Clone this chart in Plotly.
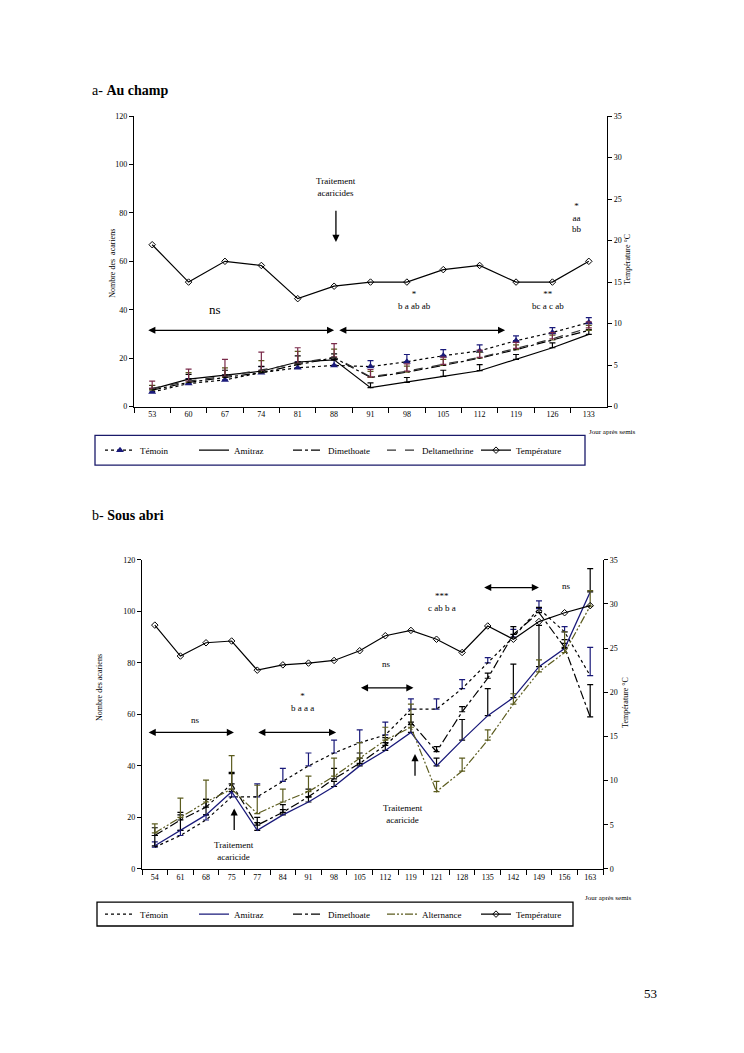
import plotly.graph_objects as go

# ---------------- data : a- Au champ ----------------
cats_a = ["53", "60", "67", "74", "81", "88", "91", "98", "105", "112", "119", "126", "133"]
temoin_a = [6, 9.5, 11, 14, 16, 17, 16.5, 18.5, 21, 23, 27.2, 30.6, 34.7]
amitraz_a = [7.2, 11.3, 13, 14.6, 18.4, 19.3, 7.8, 10, 12.5, 14.8, 19.5, 24.3, 29.8]
dimethoate_a = [6.8, 10, 12, 14, 17.3, 20.2, 12, 14.2, 17, 20, 23.5, 27.5, 31.5]
deltamethrine_a = [7.5, 10.5, 12.5, 15, 17.8, 20.5, 12.3, 14.6, 17.4, 20.3, 24, 28, 32.5]
temp_a = [19.5, 15, 17.5, 17, 13, 14.5, 15, 15, 16.5, 17, 15, 15, 17.5]
err_temoin_a = [1.5, 2, 2, 2.5, 2.5, 2.5, 2.5, 3, 2.5, 2.5, 2, 2, 2]
err_amitraz_a = [1.5, 2, 2, 2, 2.5, 2.5, 2, 2, 2.5, 2.5, 2, 2, 2]
err_dimethoate_a = [2, 4, 4, 5, 5.5, 3.5, 2.5, 2.5, 2.5, 2.5, 2, 2, 2]
err_deltamethrine_a = [3, 5, 7, 7.5, 6.5, 5.5, 3, 3, 3, 3, 2.5, 2.5, 2.5]

# ---------------- data : b- Sous abri ----------------
cats_b = ["54", "61", "68", "75", "77", "84", "91", "98", "105", "112", "119", "121",
          "128", "135", "142", "149", "156", "163"]
temoin_b = [8.5, 13, 19, 28, 28, 34, 40, 45, 49, 52, 62, 62, 70, 80, 90, 101, 92, 75]
amitraz_b = [9, 15, 21, 30, 15, 21, 26, 32, 40, 46, 53, 40, 50, 59.5, 66.5, 78.5, 85.5, 107.5]
dimethoate_b = [13, 19, 24, 33, 17, 22, 28, 35, 41, 48, 57, 45.5, 61, 74, 91, 99.5, 86, 59]
alternance_b = [14, 20, 26, 31, 21.5, 26, 30, 36, 43, 50, 55, 30, 38, 50, 64, 76.5, 84, 102]
temp_b = [27.6, 24.1, 25.6, 25.8, 22.5, 23.1, 23.3, 23.6, 24.7, 26.4, 27, 26, 24.5,
          27.5, 26, 28, 29, 29.8]
err_temoin_b = [2, 2, 2, 3, 5, 5, 5, 5, 5, 5, 4, 4, 3.5, 2, 3, 3, 2, 11]
err_amitraz_b = [4, 6, 6, 7, 3, 2, 2, 2, 3, 3, 3, 3, 8, 10.5, 13, 16, 2, 9]
err_dimethoate_b = [3, 3, 3, 4.5, 3, 3, 3, 4, 4, 3, 3, 2, 2, 2, 3, 2, 3, 12.5]
err_alternance_b = [3.5, 7.5, 8.5, 13, 11, 5, 6, 7, 6, 5, 9, 4, 5, 4, 4, 4.6, 8, 6]

FONT = "Liberation Serif"
OFF = 8                      # default page margin of the html body
W, H = 744 - 2 * OFF, 1053 - 2 * OFF
NAVY = "#1a1a7a"
OLIVE = "#5c5c1f"
MAROON = "#7a2a4a"


def px(x):
    return (x - OFF) / W


def py(y):
    return 1 - (y - OFF) / H


def up_err(arr, color):
    return dict(type="data", symmetric=False, array=arr, arrayminus=[0] * len(arr),
                width=3, thickness=1.2, color=color)


fig = go.Figure()

# ---- top chart traces ----
fig.add_trace(go.Scatter(x=cats_a, y=temoin_a, name="Témoin", mode="lines+markers",
                         line=dict(color="black", dash="dot", width=1.2),
                         marker=dict(symbol="triangle-up", size=7, color=NAVY),
                         error_y=up_err(err_temoin_a, NAVY), xaxis="x", yaxis="y", legend="legend"))
fig.add_trace(go.Scatter(x=cats_a, y=amitraz_a, name="Amitraz", mode="lines",
                         line=dict(color="black", width=1.2),
                         error_y=up_err(err_amitraz_a, "black"), xaxis="x", yaxis="y", legend="legend"))
fig.add_trace(go.Scatter(x=cats_a, y=dimethoate_a, name="Dimethoate", mode="lines",
                         line=dict(color="black", dash="dashdot", width=1.2),
                         error_y=up_err(err_dimethoate_a, OLIVE), xaxis="x", yaxis="y", legend="legend"))
fig.add_trace(go.Scatter(x=cats_a, y=deltamethrine_a, name="Deltamethrine", mode="lines",
                         line=dict(color="#333333", dash="dash", width=1.2),
                         error_y=up_err(err_deltamethrine_a, MAROON), xaxis="x", yaxis="y", legend="legend"))
fig.add_trace(go.Scatter(x=cats_a, y=temp_a, name="Température", mode="lines+markers",
                         line=dict(color="black", width=1.2),
                         marker=dict(symbol="diamond-open", size=5, color="black", line=dict(width=1)),
                         xaxis="x", yaxis="y2", legend="legend"))

# ---- bottom chart traces ----
fig.add_trace(go.Scatter(x=cats_b, y=temoin_b, name="Témoin", mode="lines",
                         line=dict(color="black", dash="dot", width=1.2),
                         error_y=up_err(err_temoin_b, NAVY), xaxis="x2", yaxis="y3", legend="legend2"))
fig.add_trace(go.Scatter(x=cats_b, y=amitraz_b, name="Amitraz", mode="lines",
                         line=dict(color=NAVY, width=1.3),
                         error_y=up_err(err_amitraz_b, "black"), xaxis="x2", yaxis="y3", legend="legend2"))
fig.add_trace(go.Scatter(x=cats_b, y=dimethoate_b, name="Dimethoate", mode="lines",
                         line=dict(color="black", dash="dashdot", width=1.2),
                         error_y=up_err(err_dimethoate_b, "black"), xaxis="x2", yaxis="y3", legend="legend2"))
fig.add_trace(go.Scatter(x=cats_b, y=alternance_b, name="Alternance", mode="lines",
                         line=dict(color=OLIVE, dash="8px,2px,2px,2px,2px,2px", width=1.2),
                         error_y=up_err(err_alternance_b, OLIVE), xaxis="x2", yaxis="y3", legend="legend2"))
fig.add_trace(go.Scatter(x=cats_b, y=temp_b, name="Température", mode="lines+markers",
                         line=dict(color="black", width=1.2),
                         marker=dict(symbol="diamond-open", size=5, color="black", line=dict(width=1)),
                         xaxis="x2", yaxis="y4", legend="legend2"))

tickfont = dict(family=FONT, size=8, color="black")
common_x = dict(type="category", tickson="boundaries", ticks="outside", ticklen=5,
                tickcolor="black", showline=True, linecolor="black", linewidth=1.2,
                showgrid=False, zeroline=False, tickfont=tickfont)
common_y = dict(ticks="outside", ticklen=4, tickcolor="black", showline=True, linecolor="black",
                linewidth=1.2, showgrid=False, zeroline=False, tickfont=tickfont)

legend_common = dict(orientation="h", xanchor="left", yanchor="middle",
                     bgcolor="rgba(0,0,0,0)", font=dict(family=FONT, size=9, color="black"),
                     itemwidth=30, entrywidth=49, tracegroupgap=0)

fig.update_layout(
    width=W, height=H, margin=dict(l=0, r=0, t=0, b=0),
    paper_bgcolor="white", plot_bgcolor="white",
    font=dict(family=FONT, size=9, color="black"),
    xaxis=dict(domain=[px(134), px(607)], anchor="y", range=[-0.5, 12.5], **common_x),
    yaxis=dict(domain=[py(406), py(113)], anchor="x", range=[0, 120], dtick=20, **common_y),
    yaxis2=dict(overlaying="y", side="right", anchor="x", range=[0, 35], dtick=5, **common_y),
    xaxis2=dict(domain=[px(142), px(603)], anchor="y3", range=[-0.5, 17.5], **common_x),
    yaxis3=dict(domain=[py(872.5), py(560.5)], anchor="x2", range=[0, 120], dtick=20, **common_y),
    yaxis4=dict(overlaying="y3", side="right", anchor="x2", range=[0, 35], dtick=5, **common_y),
    legend=dict(x=px(100), y=py(450), **legend_common),
    legend2=dict(x=px(100), y=py(918), **legend_common),
    showlegend=True,
)

shapes = [
    dict(type="rect", xref="paper", yref="paper", x0=px(95), x1=px(585), y0=py(465), y1=py(435),
         line=dict(color="#1a1a6a", width=1.3)),
    dict(type="rect", xref="paper", yref="paper", x0=px(97), x1=px(573), y0=py(930), y1=py(906),
         line=dict(color="black", width=1.3)),
]
fig.update_layout(shapes=shapes)

ann = []


def text(x, y, t, xref="x", yref="y", size=9, xanchor="center", yanchor="middle", **kw):
    ann.append(dict(x=x, y=y, xref=xref, yref=yref, text=t, showarrow=False,
                    xanchor=xanchor, yanchor=yanchor,
                    font=dict(family=FONT, size=size, color="black"), **kw))


def arrow(x, y, ax, ay, xref="x", yref="y", both=False, width=1.3):
    ann.append(dict(x=x, y=y, ax=ax, ay=ay, xref=xref, yref=yref, axref=xref, ayref=yref,
                    text="", showarrow=True, arrowhead=2, arrowsize=1.1, arrowwidth=width,
                    arrowcolor="black", arrowside="end+start" if both else "end",
                    startarrowhead=2, startarrowsize=1.1))


# titles
text(px(90), py(87), "a- <b>Au champ</b>", xref="paper", yref="paper", size=14, xanchor="left")
text(px(90), py(516), "b- <b>Sous abri</b>", xref="paper", yref="paper", size=14, xanchor="left")
text(px(650), py(998), "53", xref="paper", yref="paper", size=13)

# axis titles
text(px(113), py(261), "Nombre des  acariens", xref="paper", yref="paper", size=8, textangle=-90)
text(px(628), py(258), "Température °C", xref="paper", yref="paper", size=8, textangle=-90)
text(px(612), py(432), "Jour après semis", xref="paper", yref="paper", size=7)
text(px(99), py(690), "Nombre des acariens", xref="paper", yref="paper", size=8, textangle=-90)
text(px(626), py(705), "Température °C", xref="paper", yref="paper", size=8, textangle=-90)
text(px(608), py(902), "Jour après semis", xref="paper", yref="paper", size=7)

# ---- top annotations ----
text(5.05, 90.5, "Traitement<br>acaricides", size=9)
arrow(5.05, 68, 5.05, 81.5)
text(1.73, 40.2, "ns", size=13)
arrow(5.0, 31.5, -0.15, 31.5, both=True)
arrow(9.7, 31.5, 5.1, 31.5, both=True)
text(7.2, 44, "*<br>b a ab ab", size=9)
text(10.87, 44, "**<br>bc a c ab", size=9)
text(11.67, 78, "*<br>aa<br>bb", size=9)

# ---- bottom annotations ----
text(1.6, 57.7, "ns", xref="x2", yref="y3", size=9)
arrow(3.09, 53, -0.3, 53, xref="x2", yref="y3", both=True)
text(5.75, 64.7, "*<br>b a a a", xref="x2", yref="y3", size=9)
arrow(7.08, 53, 3.98, 53, xref="x2", yref="y3", both=True)
text(9.05, 79.5, "ns", xref="x2", yref="y3", size=9)
arrow(10.1, 70.3, 7.99, 70.3, xref="x2", yref="y3", both=True)
text(11.23, 103.4, "***<br>c ab b a", xref="x2", yref="y3", size=9)
text(14.07, 120.6, "**<br>b a b a", xref="x2", yref="y3", size=9)
arrow(15.0, 109.2, 12.8, 109.2, xref="x2", yref="y3", both=True)
text(16.06, 109.9, "ns", xref="x2", yref="y3", size=9)
text(16.75, 129.4, "***<br>a b a b", xref="x2", yref="y3", size=9)
text(3.1, 7.0, "Traitement<br>acaricide", xref="x2", yref="y3", size=9)
arrow(3.1, 23.5, 3.1, 14.5, xref="x2", yref="y3")
text(9.7, 21.2, "Traitement<br>acaricide", xref="x2", yref="y3", size=9)
arrow(10.16, 44.6, 10.16, 35.6, xref="x2", yref="y3")

fig.update_layout(annotations=ann)

fig.write_html("out.html")
